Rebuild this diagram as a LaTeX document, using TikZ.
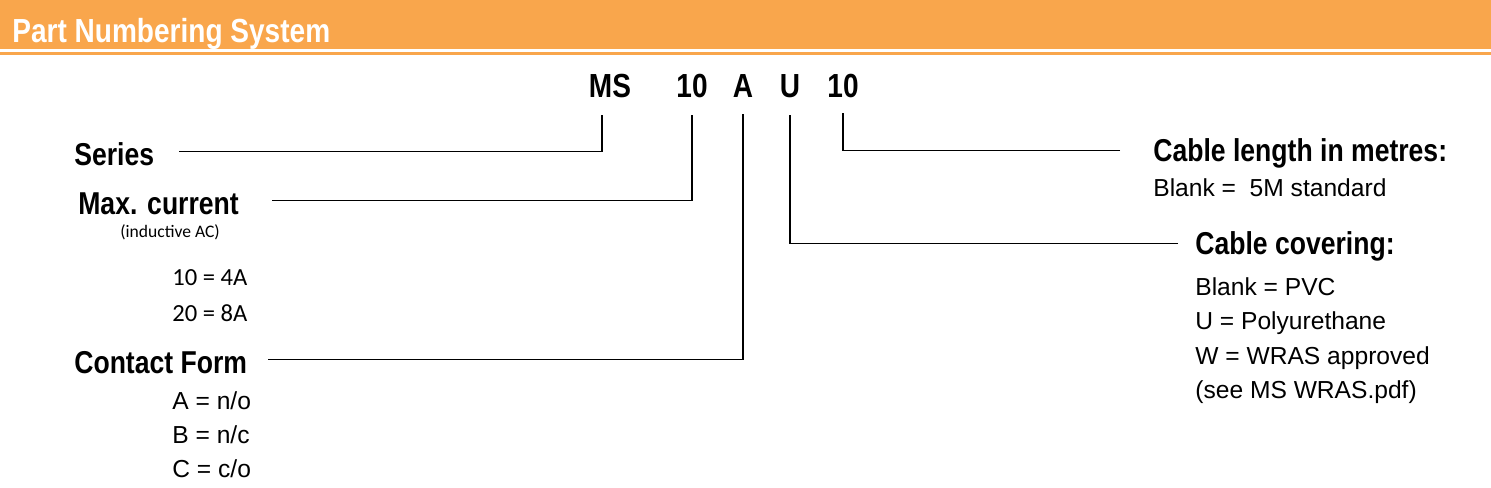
\documentclass[tikz,border=0pt]{standalone}
\usepackage{fontspec}
\setmainfont{Liberation Sans}
\newfontfamily\narrowbf[FakeStretch=0.84]{Liberation Sans Bold}
\newfontfamily\calfont{Carlito}
\definecolor{bandorange}{RGB}{249,166,76}
\usetikzlibrary{positioning}
\tikzset{
  code/.style={anchor=base,inner sep=0pt,font=\narrowbf\fontsize{19}{22}\selectfont},
  label/.style={anchor=base west,inner sep=0pt,font=\narrowbf\fontsize{18}{21}\selectfont},
  item/.style={anchor=base west,inner sep=0pt,font=\fontsize{14}{16}\selectfont},
  note/.style={anchor=base west,inner sep=0pt,font=\calfont\fontsize{14}{16}\selectfont},
  lead/.style={line width=0.6pt}
}
\begin{document}
\begin{tikzpicture}[x=0.02cm,y=-0.02cm]
\useasboundingbox (0,0) rectangle (1491,487);
% header band
\fill[bandorange] (0,0) rectangle (1491,49);
\fill[bandorange] (0,52) rectangle (1491,54.5);
\node[anchor=base west,inner sep=0pt,text=white,font=\narrowbf\fontsize{19}{22}\selectfont] (title) at (12,42) {Part Numbering System};
% part number codes
\node[code] (ms) at (610,97) {MS};
\node[code] (cur) at (692,97) {10};
\node[code] (form) at (743,97) {A};
\node[code] (cov) at (790,97) {U};
\node[code] (len) at (843,97) {10};
% left labels
\node[label] (series) at (74,165) {Series};
\node[label] (maxcur) at (78,214) {Max. current};
\node[note,font=\calfont\fontsize{10}{12}\selectfont] (induct) at (120,237) {(inductive AC)};
\node[note] (c10) at (172,285) {10 = 4A};
\node[note] (c20) at (172,321) {20 = 8A};
\node[label] (contact) at (74,373) {Contact Form};
\node[item] (fa) at (172,409) {A = n/o};
\node[item] (fb) at (172,443) {B = n/c};
\node[item] (fc) at (172,477) {C = c/o};
% right labels
\node[label] (length) at (1153,161) {Cable length in metres:};
\node[item] (blank5) at (1153,196) {Blank =\ \ 5M standard};
\node[label] (covering) at (1195,254) {Cable covering:};
\node[item] (pvc) at (1195,295) {Blank = PVC};
\node[item] (pu) at (1195,329) {U = Polyurethane};
\node[item] (wras) at (1195,364) {W = WRAS approved};
\node[item] (seems) at (1195,398) {(see MS WRAS.pdf)};
% leader lines
\draw[lead] ([xshift=25*0.02cm,yshift=0.05cm]series.east) -| ([xshift=-8*0.02cm,yshift=-17*0.02cm]ms.south);
\draw[lead] ([xshift=33*0.02cm,yshift=0.05cm]maxcur.east) -| ([yshift=-17*0.02cm]cur.south);
\draw[lead] ([xshift=21*0.02cm,yshift=0.05cm]contact.east) -| ([yshift=-17*0.02cm]form.south);
\draw[lead] ([xshift=-17*0.02cm,yshift=0.05cm]covering.west) -| ([yshift=-17*0.02cm]cov.south);
\draw[lead] ([xshift=-33*0.02cm,yshift=0.05cm]length.west) -| ([yshift=-15*0.02cm]len.south);
\end{tikzpicture}
\end{document}
